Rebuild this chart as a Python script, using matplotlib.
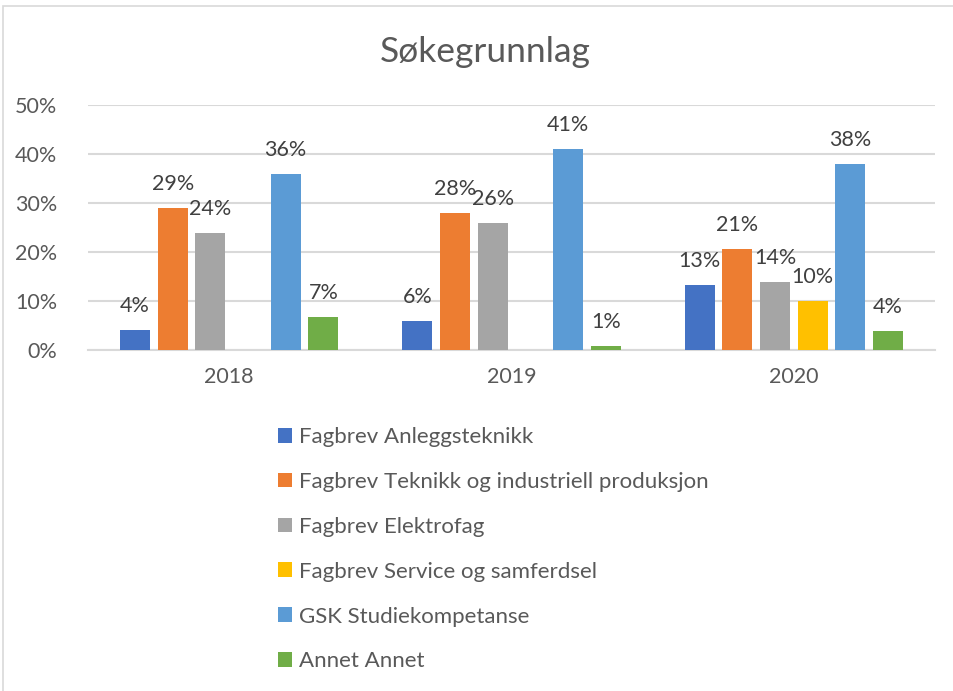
import matplotlib
matplotlib.use("Agg")
import matplotlib.pyplot as plt
import numpy as np
from matplotlib.patches import Rectangle

plt.rcParams['font.family'] = ['Lato', 'DejaVu Sans']

title = "Søkegrunnlag"
years = ["2018", "2019", "2020"]
series = [
    "Fagbrev Anleggsteknikk",
    "Fagbrev Teknikk og industriell produksjon",
    "Fagbrev Elektrofag",
    "Fagbrev Service og samferdsel",
    "GSK Studiekompetanse",
    "Annet Annet",
]
anlegg = [4.1, 5.9, 13.3]
teknikk = [28.9, 27.9, 20.6]
elektro = [23.8, 25.9, 13.9]
service = [np.nan, np.nan, 10.0]
gsk = [35.9, 41.0, 38.0]
annet = [6.8, 0.8, 3.9]
values = [anlegg, teknikk, elektro, service, gsk, annet]
colors = ["#4472C4", "#ED7D31", "#A5A5A5", "#FFC000", "#5B9BD5", "#70AD47"]
yticks = [0, 10, 20, 30, 40, 50]

fig = plt.figure(figsize=(9.54, 6.91), dpi=100)
ax = fig.add_axes([88/954, 1-350/691, (935-88)/954, (350-105)/691])

x = np.arange(len(years))
slot = 0.1335
bw = 0.106
for i, (name, vals, c) in enumerate(zip(series, values, colors)):
    pos = x + (i - 2.5) * slot
    v = np.array(vals, dtype=float)
    ax.bar(pos, np.nan_to_num(v), width=bw, color=c, label=name, zorder=3)
    for p, val in zip(pos, v):
        if np.isnan(val):
            continue
        ax.annotate(f"{round(val)}%", (p, val), xytext=(0, 13), textcoords="offset points",
                    ha="center", va="baseline", fontsize=15.5, color="#404040")

ax.set_xlim(-0.5, 2.5)
ax.set_ylim(0, 50)
ax.set_yticks(yticks)
ax.set_yticklabels([f"{t}%" for t in yticks])
ax.set_xticks(x)
ax.set_xticklabels(years)
ax.grid(axis="y", color="#D9D9D9", linewidth=1.5, zorder=0)
for s in ["top", "right", "left"]:
    ax.spines[s].set_visible(False)
ax.spines["bottom"].set_color("#D9D9D9")
ax.spines["bottom"].set_linewidth(1.5)
ax.tick_params(axis="both", length=0, labelsize=15.5, colors="#595959")
ax.tick_params(axis="y", pad=22)
ax.tick_params(axis="x", pad=12)

fig.text(485/954, 1-52/691, title, ha="center", va="center", fontsize=25.5, color="#595959")

handles, labels = ax.get_legend_handles_labels()
leg = fig.legend(handles, labels, loc="upper left", bbox_to_anchor=(258/954, 1-407/691),
                 frameon=False, fontsize=16, labelcolor="#595959", handlelength=0.65,
                 handleheight=0.65, handletextpad=0.3, labelspacing=1.12)

fig.patches.append(Rectangle((3/954, -0.01), 1.0, 1-6/691 + 0.01, transform=fig.transFigure,
                             fill=False, edgecolor="#D9D9D9", linewidth=1.2))

fig.savefig("out.png", dpi=100)
